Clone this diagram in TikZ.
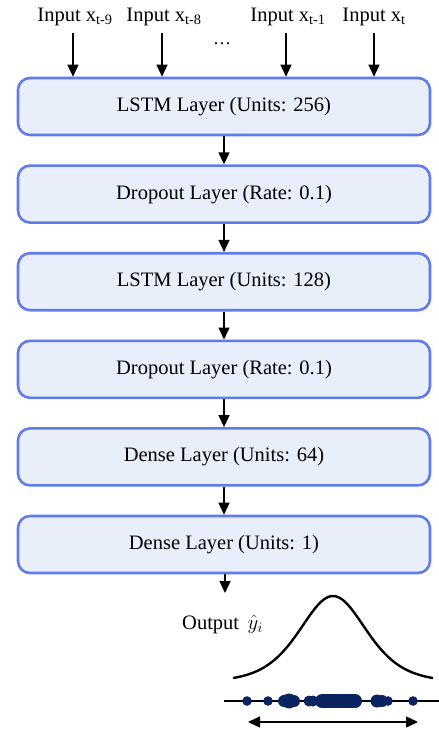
\documentclass[tikz,border=0pt]{standalone}
\usepackage{fontspec}
\setmainfont{Liberation Serif}
\usepackage{amsmath}
\usetikzlibrary{arrows.meta,positioning}
\definecolor{layerfill}{RGB}{232,238,250}
\definecolor{layerline}{RGB}{96,124,235}
\definecolor{dotblue}{RGB}{10,36,96}
\tikzset{
  layer/.style={draw=layerline,fill=layerfill,line width=2.6pt,rounded corners=12pt,
    minimum width=412pt,minimum height=57pt,font=\fontsize{20.5}{24}\selectfont},
  inlabel/.style={font=\fontsize{20.5}{24}\selectfont,inner sep=2pt},
  arr/.style={-{Triangle[length=12pt,width=11pt]},line width=1.4pt},
  dot/.style={fill=dotblue,draw=none}
}
\begin{document}
\begin{tikzpicture}[x=1pt,y=-1pt]
			\useasboundingbox (0,0) rectangle (439,731);
			\node[layer] (lstmA) at (224,106.5) {LSTM Layer (Units: 256)};
			\node[layer,below=28pt of lstmA] (dropA) {Dropout Layer (Rate: 0.1)};
			\node[layer,below=28pt of dropA] (lstmB) {LSTM Layer (Units: 128)};
			\node[layer,below=28pt of lstmB] (dropB) {Dropout Layer (Rate: 0.1)};
			\node[layer,below=28pt of dropB] (denseA) {Dense Layer (Units: 64)};
			\node[layer,below=28pt of denseA] (denseB) {Dense Layer (Units: 1)};
			
			\node[inlabel] (inA) at (75,17) {Input x\textsubscript{t-9}};
			\node[inlabel] (inB) at (164,17) {Input x\textsubscript{t-8}};
			\node[inlabel] (inC) at (288,17) {Input x\textsubscript{t-1}};
			\node[inlabel] (inD) at (374,17) {Input x\textsubscript{t}};
			\node[font=\fontsize{18}{20}\selectfont] (dots) at (222,44) {\dots};
			\coordinate (srcA) at (73,33);
			\coordinate (srcB) at (162,33);
			\coordinate (srcC) at (286,33);
			\coordinate (srcD) at (374,33);
			\foreach \s in {srcA,srcB,srcC,srcD}
				\draw[arr] (\s) -- (\s |- lstmA.north);
			
			\draw[arr] (lstmA) -- (dropA);
			\draw[arr] (dropA) -- (lstmB);
			\draw[arr] (lstmB) -- (dropB);
			\draw[arr] (dropB) -- (denseA);
			\draw[arr] (denseA) -- (denseB);
			\coordinate (outtip) at (225,593);
			\draw[arr] (denseB.south -| outtip) -- (outtip);
			
			\node[font=\fontsize{20.5}{24}\selectfont,anchor=west,inner sep=0pt] (out) at (182,624) {Output\, $\hat{y}_i$};
			\draw[line width=2.4pt] plot[domain=233:433,samples=100] (\x,{682-86/(cosh((\x-333)/45))^2});
			
			\coordinate (lineL) at (224,701);
			\coordinate (lineR) at (439,701);
			\draw[line width=1.2pt] (lineL) -- (lineR);
			\foreach \px/\r in {247/4.8,268/4.8,289/7.5,284/6,294/6,309/5.5,313/5.5,377/6.5,382/6,388/4.8,413/4.8}
				\fill[dot] (\px,701) circle (\r);
			\fill[dot] (322,694) rectangle (355,708);
			\fill[dot] (322,701) circle (7);
			\fill[dot] (355,701) circle (7);
			
			\coordinate (spanL) at (248,722);
			\coordinate (spanR) at (418,722);
			\draw[{Triangle[length=12pt,width=11pt]}-{Triangle[length=12pt,width=11pt]},line width=1.4pt] (spanL) -- (spanR);
		\end{tikzpicture}
\end{document}
